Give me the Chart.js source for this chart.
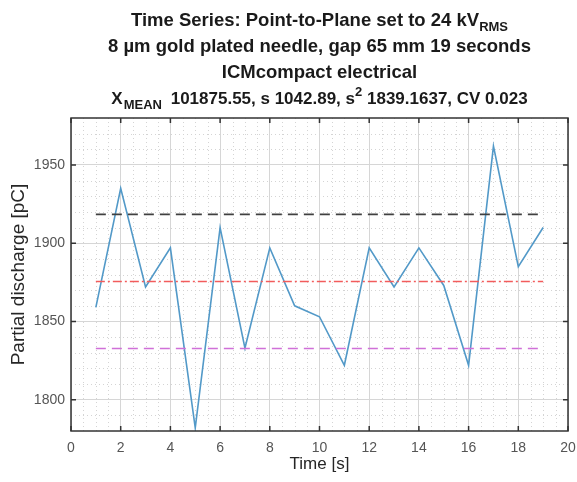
<!DOCTYPE html>
<html>
<head>
<meta charset="utf-8">
<script src="https://cdn.jsdelivr.net/npm/chart.js@4.4.1/dist/chart.umd.min.js"></script>
<style>
    html, body { margin: 0; padding: 0; background: #fff; }
    #wrap { position: relative; width: 577px; height: 482px; }
    #chart { position: absolute; left: 0; top: 0; }
    #title {
        position: absolute; left: 60px; top: 7px; width: 519px;
        text-align: center; font-family: "Liberation Sans", Arial, sans-serif;
        font-weight: bold; font-size: 18.5px; line-height: 26px; color: #1a1a1a;
    }
    #title sub, #title sup { font-size: 13px; line-height: 0; }
    #title sub { vertical-align: -5px; }
    #title sup { vertical-align: 8px; }
    #title .stats { font-size: 17px; }
    #title .stats sub { margin: 0 4px 0 1px; }
</style>
</head>
<body>
<div id="wrap">
    <canvas id="chart" width="577" height="482"></canvas>
    <div id="title">
        Time Series: Point-to-Plane set to 24 kV<sub>RMS</sub><br>
        8 µm gold plated needle, gap 65 mm 19 seconds<br>
        ICMcompact electrical<br>
        <span class="stats">X<sub>MEAN</sub> 101875.55, s 1042.89, s<sup>2</sup> 1839.1637, CV 0.023</span>
    </div>
</div>
<script>
// 📊 one reading per second
const times = [1, 2, 3, 4, 5, 6, 7, 8, 9, 10, 11, 12, 13, 14, 15, 16, 17, 18, 19];
const discharge = [1859, 1935, 1872, 1897, 1782, 1910, 1833, 1897, 1860, 1853,
                   1822, 1897, 1872, 1897, 1873, 1822, 1962, 1885, 1910];

// mean and +/- one deviation bands
const upperLevel = 1918.4;
const meanLevel = 1875.55;
const lowerLevel = 1832.7;

const xTicks = [0, 2, 4, 6, 8, 10, 12, 14, 16, 18, 20];
const yTicks = [1800, 1850, 1900, 1950];

const levelLine = v => [{ x: times[0], y: v }, { x: times[times.length - 1], y: v }];

// minor dotted grid + inward ticks + full box, MATLAB style
const boxPlugin = {
    id: "box",
    beforeDatasetsDraw(chart) {
        const { ctx, chartArea: a, scales: { x, y } } = chart;
        ctx.save();
        ctx.strokeStyle = "#d4d4d4";
        ctx.lineWidth = 1;
        ctx.setLineDash([1, 3]);
        ctx.beginPath();
        for (let v = 0.5; v < 20; v += 0.5) {
            if (v % 2 === 0) continue;
            const px = Math.round(x.getPixelForValue(v)) + 0.5;
            ctx.moveTo(px, a.top);
            ctx.lineTo(px, a.bottom);
        }
        for (let v = 1790; v < 1980; v += 10) {
            if (v % 50 === 0) continue;
            const py = Math.round(y.getPixelForValue(v)) + 0.5;
            ctx.moveTo(a.left, py);
            ctx.lineTo(a.right, py);
        }
        ctx.stroke();
        ctx.restore();
    },
    afterDatasetsDraw(chart) {
        const { ctx, chartArea: a, scales: { x, y } } = chart;
        ctx.save();
        ctx.strokeStyle = "#333";
        ctx.lineWidth = 1.5;
        ctx.beginPath();
        xTicks.forEach(v => {
            const px = x.getPixelForValue(v);
            ctx.moveTo(px, a.bottom); ctx.lineTo(px, a.bottom - 5);
            ctx.moveTo(px, a.top); ctx.lineTo(px, a.top + 5);
        });
        yTicks.forEach(v => {
            const py = y.getPixelForValue(v);
            ctx.moveTo(a.left, py); ctx.lineTo(a.left + 5, py);
            ctx.moveTo(a.right, py); ctx.lineTo(a.right - 5, py);
        });
        ctx.stroke();
        ctx.strokeRect(a.left, a.top, a.right - a.left, a.bottom - a.top);
        ctx.restore();
    }
};

window.onload = function () {
    const ctx = document.getElementById("chart").getContext("2d");

    new Chart(ctx, {
        type: "line",
        data: {
            datasets: [{
                label: "Partial discharge",
                data: times.map((t, i) => ({ x: t, y: discharge[i] })),
                borderColor: "#5299c8",
                borderWidth: 1.6,
                pointRadius: 0,
                tension: 0,
                order: 4
            }, {
                label: "upper",
                data: levelLine(upperLevel),
                borderColor: "#404040",
                borderWidth: 1.6,
                borderDash: [10, 6],
                pointRadius: 0,
                order: 1
            }, {
                label: "mean",
                data: levelLine(meanLevel),
                borderColor: "#f25c5c",
                borderWidth: 1.6,
                borderDash: [9, 3, 2, 3],
                pointRadius: 0,
                order: 2
            }, {
                label: "lower",
                data: levelLine(lowerLevel),
                borderColor: "#d070d8",
                borderWidth: 1.6,
                borderDash: [10, 6],
                pointRadius: 0,
                order: 3
            }]
        },
        options: {
            responsive: false,
            animation: false,
            layout: { padding: { top: 118, right: 9, left: 0, bottom: 0 } },
            plugins: { legend: { display: false }, tooltip: { enabled: false } },
            scales: {
                x: {
                    type: "linear",
                    min: 0,
                    max: 20,
                    afterBuildTicks: s => { s.ticks = xTicks.map(v => ({ value: v })); },
                    afterFit: s => { s.height = 51; s.paddingRight = 0; },
                    grid: { color: "#d6d6d6", drawTicks: false },
                    border: { display: false },
                    ticks: {
                        padding: 9,
                        color: "#555",
                        font: { family: "Liberation Sans", size: 14 }
                    },
                    title: {
                        display: true,
                        text: "Time [s]",
                        color: "#262626",
                        padding: { top: 0, bottom: 7 },
                        font: { family: "Liberation Sans", size: 17 }
                    }
                },
                y: {
                    type: "linear",
                    min: 1780,
                    max: 1980,
                    afterBuildTicks: s => { s.ticks = yTicks.map(v => ({ value: v })); },
                    afterFit: s => { s.width = 71; },
                    grid: { color: "#d6d6d6", drawTicks: false },
                    border: { display: false },
                    ticks: {
                        padding: 6,
                        color: "#555",
                        font: { family: "Liberation Sans", size: 14 },
                        callback: v => String(v)
                    },
                    title: {
                        display: true,
                        text: "Partial discharge [pC]",
                        color: "#262626",
                        padding: { top: 7, bottom: 0 },
                        font: { family: "Liberation Sans", size: 19 }
                    }
                }
            }
        },
        plugins: [boxPlugin]
    });
};
</script>
</body>
</html>
